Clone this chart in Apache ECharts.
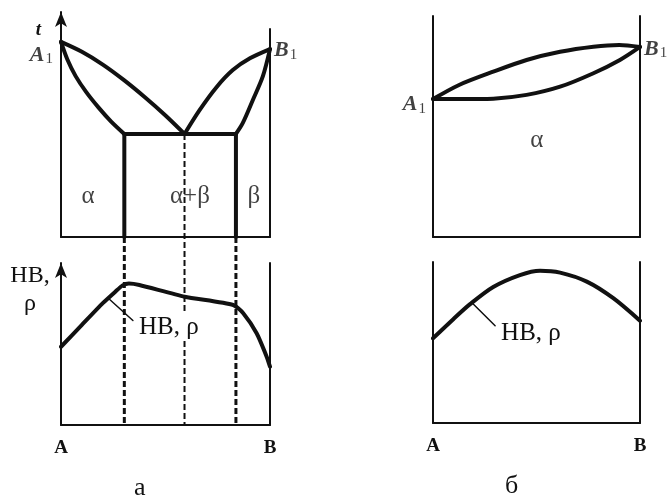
<!DOCTYPE html>
<html>
<head>
<meta charset="utf-8">
<script src="https://cdn.jsdelivr.net/npm/echarts@6/dist/echarts.min.js"></script>
<style>
  html, body { margin: 0; padding: 0; background: #fff; }
  #chart { width: 669px; height: 500px; }
</style>
</head>
<body>
<div id="chart"></div>
<script>
// Horizontal axes: composition, % of component B (A = 0, B = 100).
// Vertical axes: temperature (upper panels) and hardness / resistivity (lower panels), relative units.

// ---------- a: eutectic system with limited solid solubility ----------
const eutecticT = 45.8;
const alphaLimit = 30.3;   // max solubility of B in α
const eutecticX = 59.1;    // eutectic composition
const betaLimit = 83.7;    // max solubility of A in β
const liquidusLeftA = [[0, 86.7], [10, 82.3], [20, 76.6], [30, 69.8], [40, 62.2], [50, 54.0], [59.1, 45.8]];
const solidusAlphaA = [[0, 86.7], [3, 79.0], [7, 71.5], [12, 64.5], [18, 57.5], [24, 51.3], [30.3, 45.8]];
const liquidusRightA = [[59.1, 45.8], [66.3, 56.4], [74.5, 66.7], [82.2, 74.2], [90.4, 79.4], [100, 83.5]];
const solidusBetaA = [[83.7, 45.8], [87, 50.7], [91.8, 60.9], [96.6, 71.5], [100, 83.5]];
const meltPointsA = [['A', 0, 86.7], ['B', 100, 83.5]];
const phaseLabelsA = [['α', 13, 18.2], ['α+β', 61.7, 18.2], ['β', 92.3, 18.2]];
const propertyA = [[0, 48.3], [10, 61.8], [20, 75.2], [26, 82.3], [29.5, 86.2], [32.5, 87.3], [37.5, 86.4],
                   [59.1, 79.2], [82.4, 74.1], [87.2, 69.0], [93.6, 56.6], [98.4, 42.2], [100, 36.0]];
const pointerA = [[22.5, 78.4], [34.4, 64.5]];

// ---------- б: unlimited solubility in the solid state ----------
const liquidusB = [[0, 62.4], [12.6, 68.8], [29.1, 74.8], [45.2, 80.1], [61.4, 83.8], [77.5, 86.1], [90, 86.9], [100, 86.0]];
const solidusB = [[0, 62.4], [12.6, 62.4], [29.1, 62.6], [45.2, 64.3], [61.4, 68.0], [77.5, 74.1], [90.3, 80.1], [100, 86.0]];
const meltPointsB = [['A', 0, 62.4], ['B', 100, 86.0]];
const phaseLabelsB = [['α', 50.2, 43.9]];
const propertyB = [[0, 52.6], [9.8, 64.5], [17.9, 73.8], [29.1, 84.5], [42, 91.9], [51.7, 94.6],
                   [61.4, 93.4], [74.3, 87.8], [87.1, 77.5], [100, 63.5]];
const pointerB = [[18.7, 74.8], [30.0, 60.4]];

const propertyName = 'HB, ρ';
const endLabels = ['A', 'B'];

// ---------- layout ----------
const INK = '#111';
const SERIF = 'Liberation Serif';
const L = {
  aLeft: 61, aWidth: 209,
  bLeft: 433, bWidth: 207,
  upTop: 12, upBottom: 237,
  aLowTop: 263, aLowBottom: 425,
  bUpTop: 16, bLowTop: 262, bLowBottom: 423
};
// how far (in temperature units) the dashed guides run below the upper panel of a
const guideEnd = -(L.aLowBottom - L.upBottom) / ((L.upBottom - L.upTop) / 100);

const grids = [
  { left: L.aLeft, width: L.aWidth, top: L.upTop, height: L.upBottom - L.upTop },          // 0 a, upper
  { left: L.aLeft, width: L.aWidth, top: 29, height: L.upBottom - 29 },                    // 1 a, right border
  { left: L.aLeft, width: L.aWidth, top: L.aLowTop, height: L.aLowBottom - L.aLowTop },    // 2 a, lower
  { left: L.bLeft, width: L.bWidth, top: L.bUpTop, height: L.upBottom - L.bUpTop },        // 3 б, upper
  { left: L.bLeft, width: L.bWidth, top: L.bLowTop, height: L.bLowBottom - L.bLowTop }     // 4 б, lower
].map(g => Object.assign({ containLabel: false, outerBoundsMode: 'none' }, g));

const line = (w) => ({ show: true, onZero: false, lineStyle: { color: INK, width: w } });
const arrowLine = (w) => Object.assign(line(w), { symbol: ['none', 'arrow'], symbolSize: [9, 15] });

function xAxisFor(gridIndex, opts) {
  return Object.assign({
    type: 'value', gridIndex, min: 0, max: 100, interval: 100,
    axisLine: line(2), axisTick: { show: false }, splitLine: { show: false }, axisLabel: { show: false }
  }, opts || {});
}
const endLabelAxis = {
  axisLabel: {
    show: true, showMinLabel: true, showMaxLabel: true, margin: 14,
    formatter: v => (v === 0 ? endLabels[0] : endLabels[1]),
    fontFamily: SERIF, fontWeight: 'bold', fontSize: 19, color: INK
  }
};
function yAxisFor(gridIndex, opts) {
  return Object.assign({
    type: 'value', gridIndex, min: 0, max: 100, position: 'left',
    axisLine: line(2), axisTick: { show: false }, splitLine: { show: false }, axisLabel: { show: false }
  }, opts || {});
}

const xAxes = [
  xAxisFor(0),
  xAxisFor(1, { show: false }),
  xAxisFor(2, endLabelAxis),
  xAxisFor(3),
  xAxisFor(4, endLabelAxis)
];
const yAxes = [
  yAxisFor(0, {
    axisLine: arrowLine(2), name: 't', nameLocation: 'end', nameGap: -18,
    nameTextStyle: { fontFamily: SERIF, fontStyle: 'italic', fontWeight: 'bold', fontSize: 19, color: INK,
                     align: 'right', verticalAlign: 'middle', padding: [0, 20, 0, 0] }
  }),
  yAxisFor(1, { position: 'right' }),
  yAxisFor(2, {
    axisLine: arrowLine(2), name: 'HB,\nρ', nameLocation: 'end', nameGap: 1,
    nameTextStyle: { fontFamily: SERIF, fontSize: 24, lineHeight: 28, color: INK,
                     align: 'center', verticalAlign: 'top', padding: [0, 62, 0, 0] }
  }),
  yAxisFor(3),
  yAxisFor(4),
  yAxisFor(2, { position: 'right' }),
  yAxisFor(3, { position: 'right' }),
  yAxisFor(4, { position: 'right' })
];

function curve(axis, data, width, extra) {
  return Object.assign({
    type: 'line', xAxisIndex: axis, yAxisIndex: axis, data,
    symbol: 'none', smooth: 0.3, silent: true, animation: false,
    lineStyle: { color: INK, width, cap: 'round', join: 'round' }
  }, extra || {});
}
function straight(axis, data, width, extra) {
  return curve(axis, data, width, Object.assign({ smooth: false }, extra || {}));
}
function dashed(axis, data, width) {
  return straight(axis, data, width, {
    clip: false, lineStyle: { color: INK, width, type: [6, 3], cap: 'butt' }
  });
}
const meltRich = {
  it: { fontFamily: SERIF, fontStyle: 'italic', fontWeight: 'bold', fontSize: 22, color: INK },
  sub: { fontFamily: SERIF, fontSize: 15, color: INK, padding: [9, 0, 0, 1] }
};
function meltLabels(axis, points, offsets) {
  return {
    type: 'scatter', xAxisIndex: axis, yAxisIndex: axis, symbolSize: 0, silent: true, animation: false,
    data: points.map((p, i) => ({
      value: [p[1], p[2]],
      label: {
        show: true, position: i === 0 ? 'left' : 'right', distance: offsets[i][0], offset: [0, offsets[i][1]],
        formatter: '{it|' + p[0] + '}{sub|1}', rich: meltRich
      }
    }))
  };
}
function phaseLabels(axis, items) {
  return {
    type: 'scatter', xAxisIndex: axis, yAxisIndex: axis, symbolSize: 0, silent: true, animation: false,
    data: items.map(p => ({ value: [p[1], p[2]], name: p[0] })),
    label: { show: true, position: 'inside', formatter: '{b}', fontFamily: SERIF, fontSize: 25, color: INK }
  };
}
function pointer(axis, data, offset) {
  return straight(axis, data, 1.5, {
    z: 5,
    endLabel: {
      show: true, formatter: propertyName, distance: 4, offset: offset,
      fontFamily: SERIF, fontSize: 25, color: INK, backgroundColor: '#fff', padding: [1, 2]
    }
  });
}

const series = [
  // a, upper panel
  curve(0, liquidusLeftA, 4),
  curve(0, solidusAlphaA, 4),
  curve(0, liquidusRightA, 4),
  curve(0, solidusBetaA, 4),
  straight(0, [[alphaLimit, eutecticT], [betaLimit, eutecticT]], 4),
  straight(0, [[alphaLimit, eutecticT], [alphaLimit, 0]], 4),
  straight(0, [[betaLimit, eutecticT], [betaLimit, 0]], 4),
  dashed(0, [[alphaLimit, 0], [alphaLimit, guideEnd]], 3),
  dashed(0, [[eutecticX, eutecticT], [eutecticX, guideEnd]], 2),
  dashed(0, [[betaLimit, 0], [betaLimit, guideEnd]], 3),
  meltLabels(0, meltPointsA, [[8, 13], [4, 1]]),
  phaseLabels(0, phaseLabelsA),
  // a, lower panel
  curve(2, propertyA, 4, { smooth: 0.2 }),
  pointer(2, pointerA, [0, 7]),
  // б, upper panel
  curve(3, liquidusB, 4),
  curve(3, solidusB, 4),
  meltLabels(3, meltPointsB, [[7, 5], [4, 2]]),
  phaseLabels(3, phaseLabelsB),
  // б, lower panel
  curve(4, propertyB, 4),
  pointer(4, pointerB, [0, 8])
];

const chart = echarts.init(document.getElementById('chart'), null, { renderer: 'canvas' });
chart.setOption({
  backgroundColor: '#fff',
  animation: false,
  title: [
    { text: 'а', left: 134, top: 475, padding: 0,
      textStyle: { fontFamily: SERIF, fontSize: 26, fontWeight: 'normal', color: INK } },
    { text: 'б', left: 505, top: 473, padding: 0,
      textStyle: { fontFamily: SERIF, fontSize: 26, fontWeight: 'normal', color: INK } }
  ],
  grid: grids,
  xAxis: xAxes,
  yAxis: yAxes,
  series
});
</script>
</body>
</html>
